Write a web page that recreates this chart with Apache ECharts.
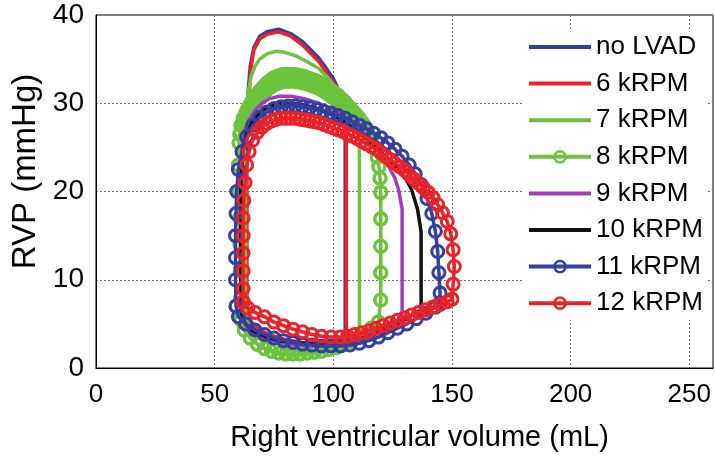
<!DOCTYPE html>
<html>
<head>
<meta charset="utf-8">
<title>RV PV loops</title>
<script src="https://cdn.jsdelivr.net/npm/echarts@6/dist/echarts.min.js"></script>
<style>
  html, body { margin: 0; padding: 0; background: #fff; }
  #chart { width: 715px; height: 460px; }
</style>
</head>
<body>
<div id="chart"></div>
<script>
// RV pressure-volume loops, [volume mL, pressure mmHg]
const noLvad = [
  [63.5, 6.5], [65, 5.0], [68, 4.1], [73, 3.5], [80, 3.0], [87, 2.7], [94, 2.6], [100, 2.7], [105, 3.0],
  [105, 27.5], [103.5, 30.8], [100, 32.8], [94, 35.1], [87, 37.0], [82, 37.9], [77, 38.4], [72, 38.1],
  [69, 37.6], [66.5, 36.3], [65, 34.2], [64, 31], [63.5, 26], [63.5, 6.5]
];
const rpm6 = [
  [63.5, 6.5], [65.5, 5.2], [69, 4.3], [74, 3.7], [80, 3.2], [87, 2.9], [94, 2.8], [100, 2.9], [105.5, 3.2],
  [105.5, 27], [104, 30.3], [100, 32.3], [94, 34.7], [87, 36.6], [82, 37.6], [77, 38.1], [72, 37.8],
  [69, 37.3], [66.5, 36], [65.3, 34], [64.5, 31], [63.5, 26], [63.5, 6.5]
];
const rpm7 = [
  [63, 6], [65, 4.6], [68, 3.7], [73, 3.1], [80, 2.7], [88, 2.5], [96, 2.6], [104, 3.0], [111, 3.6],
  [111, 26], [108, 28.3], [105.5, 29.8], [102, 31.3], [98, 32.8], [94, 33.9], [89, 34.7], [84, 35.4],
  [79, 35.8], [76, 35.9], [72, 35.6], [69, 35], [67, 34.2], [65.3, 33], [64, 31], [63, 28], [63, 6]
];
// 8 kRPM: two beats, same filling / isovolumic parts, slightly different ejection
const rpm8Fill = [
  [61, 5.5], [62.5, 4.3], [65, 3.4], [68, 2.7], [71, 2.2], [74, 1.9], [77, 1.7], [80, 1.6], [83, 1.6],
  [86, 1.6], [89, 1.7], [92, 1.8], [95, 1.9], [98, 2.1], [101, 2.3], [104, 2.6], [107, 3.0], [110, 3.4],
  [113, 3.9], [116, 4.5], [119, 5.2], [120, 7.7], [120, 10.8], [120, 13.8], [120, 16.9], [120, 19.9],
  [119.7, 21.5], [119.2, 22.8], [118.5, 23.9], [117.5, 25.0], [116, 26.0], [114.5, 26.8], [113, 27.5]
];
const rpm8EjectA = [
  [112, 27.9], [111, 28.3], [110, 28.6], [109, 28.9], [108, 29.2], [107, 29.5], [106, 29.8], [105, 30.1],
  [104, 30.4], [103, 30.6], [102, 30.9], [101, 31.1], [100, 31.3], [99, 31.5], [98, 31.7], [97, 31.9],
  [96, 32.1], [95, 32.2], [94, 32.4], [93, 32.5], [92, 32.6], [91, 32.7], [90, 32.8], [89, 32.9],
  [88, 33.0], [87, 33.1], [86, 33.1], [85, 33.2], [84, 33.2], [83, 33.3], [82, 33.3], [81, 33.3],
  [80, 33.3], [79, 33.3], [78, 33.2], [77, 33.1], [76, 33.0], [75, 32.9], [74, 32.7], [73, 32.5],
  [72, 32.3], [71, 32.0], [70, 31.7], [69, 31.4], [68, 31.1], [67, 30.7], [66, 30.3], [65, 29.9],
  [64, 29.4], [63, 28.9], [62, 28.3], [61, 27.5], [60.5, 26.5], [60.3, 25.5]
];
const rpm8EjectB = [
  [112, 27.3], [111, 27.6], [110, 28.0], [109, 28.3], [108, 28.6], [107, 28.9], [106, 29.2], [105, 29.4],
  [104, 29.7], [103, 29.9], [102, 30.2], [101, 30.4], [100, 30.6], [99, 30.8], [98, 31.0], [97, 31.2],
  [96, 31.4], [95, 31.5], [94, 31.7], [93, 31.8], [92, 31.9], [91, 32.0], [90, 32.1], [89, 32.2],
  [88, 32.3], [87, 32.3], [86, 32.4], [85, 32.4], [84, 32.5], [83, 32.5], [82, 32.5], [81, 32.5],
  [80, 32.5], [79, 32.5], [78, 32.4], [77, 32.3], [76, 32.2], [75, 32.1], [74, 31.9], [73, 31.7],
  [72, 31.5], [71, 31.2], [70, 30.9], [69, 30.6], [68, 30.3], [67, 29.9], [66, 29.5], [65, 29.1],
  [64, 28.6], [63, 28.1], [62, 27.5], [61, 26.7], [60.3, 25.5]
];
const rpm8Relax = [
  [60, 23], [60.3, 20], [60.5, 17], [60.7, 14], [60.8, 11], [61, 8], [61, 5.5]
];
const rpm9 = [
  [61.5, 6], [63, 4.8], [67, 3.9], [72, 3.3], [78, 2.9], [85, 2.6], [92, 2.5], [100, 2.6], [108, 3.0],
  [116, 3.6], [124, 4.6], [129, 5.4], [129, 18], [127.5, 20.2], [126, 21.5], [123, 23], [119, 24.6],
  [115, 26], [110, 27.4], [105, 28.5], [100, 29.3], [94, 30.0], [88, 30.5], [82, 30.8], [77, 30.8],
  [73, 30.5], [70, 30.0], [67, 29.2], [64.5, 28.1], [62.5, 26.8], [61.5, 25], [61.5, 6]
];
const rpm10 = [
  [61, 6.5], [62.5, 5.2], [66, 4.2], [71, 3.6], [77, 3.1], [84, 2.9], [92, 2.7], [100, 2.8], [108, 3.1],
  [116, 3.7], [124, 4.6], [131, 5.6], [137, 6.6], [137, 15.4], [135.5, 18], [133, 20.2], [130.8, 21.3],
  [127, 22.6], [123.6, 23.6], [119, 24.8], [114, 26], [109, 27.1], [104, 28], [98, 28.9], [92, 29.5],
  [86, 29.9], [80, 30.0], [76, 29.9], [72, 29.5], [69, 28.9], [66, 28], [63.5, 26.6], [62, 24.8],
  [61, 22], [61, 6.5]
];
const rpm11 = [
  [59, 7], [60, 5.8], [63, 5.0], [67, 4.3], [71, 3.8], [75, 3.4], [79, 3.1], [83, 2.9], [87, 2.7],
  [91, 2.6], [95, 2.5], [99, 2.5], [103, 2.5], [107, 2.6], [111, 2.8], [115, 3.1], [119, 3.5], [123, 4.0],
  [127, 4.5], [131, 5.0], [135, 5.6], [139, 6.2], [143, 6.9], [145, 7.4], [145, 8.5], [144.5, 10.8],
  [144, 13.2], [143, 15.5], [141.5, 17.5], [139.5, 19.2], [137, 20.8], [134.5, 22.0], [132, 23.0],
  [129, 24.0], [126, 24.8], [123, 25.5], [120, 26.1], [117, 26.6], [114, 27.1], [111, 27.5], [108, 27.9],
  [105, 28.3], [102, 28.6], [99, 28.9], [96, 29.1], [93, 29.3], [90, 29.5], [87, 29.6], [84, 29.7],
  [81, 29.7], [78, 29.6], [75, 29.4], [72, 29.0], [69, 28.4], [66, 27.5], [63.5, 26.2], [61.5, 24.5],
  [60, 22.5], [59.3, 20], [59, 17.5], [58.8, 15], [58.8, 12.5], [58.8, 10], [59, 7]
];
const rpm12 = [
  [62, 7.5], [64, 6.8], [67, 6.3], [71, 5.8], [75, 5.2], [79, 4.8], [83, 4.4], [87, 4.1], [91, 3.8],
  [95, 3.6], [99, 3.5], [103, 3.5], [106, 3.6], [109, 3.8], [112, 4.0], [115, 4.2], [118, 4.5], [121, 4.8],
  [124, 5.1], [127, 5.4], [130, 5.7], [133, 6.0], [136, 6.3], [139, 6.6], [142, 6.9], [145, 7.2],
  [148, 7.5], [150, 7.8], [150.5, 9.5], [151, 11.5], [150.5, 13.4], [149.5, 15.2], [148, 16.6],
  [146, 17.6], [144, 18.5], [142, 19.3], [140, 19.9], [138, 20.4], [136, 20.9], [134, 21.4], [132, 21.9],
  [130, 22.4], [128, 22.8], [126, 23.2], [124, 23.6], [122, 24.0], [120, 24.4], [118, 24.8], [116, 25.1],
  [114, 25.4], [112, 25.7], [110, 26.0], [108, 26.3], [106, 26.5], [104, 26.8], [102, 27.0], [100, 27.2],
  [98, 27.4], [96, 27.6], [94, 27.8], [92, 27.9], [90, 28.0], [88, 28.1], [86, 28.2], [84, 28.3],
  [82, 28.3], [80, 28.3], [78, 28.3], [76, 28.2], [74, 28.0], [72, 27.7], [70, 27.3], [68, 26.7],
  [66, 25.8], [64.5, 24.5], [63.5, 23], [62.8, 21], [62.3, 19], [62, 17], [62, 15], [62, 13],
  [62, 11], [62, 9], [62, 7.5]
];
const rpm8 = [].concat(rpm8Fill, rpm8EjectA, rpm8Relax, rpm8Fill, rpm8EjectB, rpm8Relax);

const seriesNames = ['no LVAD', '6 kRPM', '7 kRPM', '8 kRPM', '9 kRPM', '10 kRPM', '11 kRPM', '12 kRPM'];
const seriesData = [noLvad, rpm6, rpm7, rpm8, rpm9, rpm10, rpm11, rpm12];
const seriesColors = ['#3340a0', '#ec2228', '#6cc33c', '#6cc33c', '#a23cbc', '#111111', '#3340a0', '#ec2228'];
const withCircles = [false, false, false, true, false, false, true, true];

const font = "'Liberation Sans', Arial, sans-serif";

const chart = echarts.init(document.getElementById('chart'));

const series = seriesNames.map((name, i) => ({
    name: name,
    type: 'line',
    data: seriesData[i],
    smooth: false,
    symbol: withCircles[i] ? 'circle' : 'none',
    symbolSize: 12,
    showAllSymbol: true,
    lineStyle: { color: seriesColors[i], width: 3.5 },
    itemStyle: withCircles[i]
        ? { color: 'rgba(255,255,255,0)', borderColor: seriesColors[i], borderWidth: 3 }
        : { color: seriesColors[i], borderWidth: 0 },
    emphasis: { disabled: true },
    z: 2 + i
}));

// plain lines get a flat bar as legend icon, circle series keep line + circle
const legendData = seriesNames.map((name, i) => withCircles[i]
    ? { name: name, lineStyle: { width: 4 }, itemStyle: { borderWidth: 2.5 } }
    : { name: name, icon: 'path://M0,0 h62 v4 h-62 Z', itemStyle: { borderWidth: 0 } });

chart.setOption({
    animation: false,
    backgroundColor: '#fff',
    grid: {
        left: 96,
        right: 2,
        top: 15,
        bottom: 92,
        show: true,
        borderColor: '#000',
        borderWidth: 1
    },
    legend: {
        orient: 'vertical',
        left: 522,
        top: 30,
        padding: [2, 4, 2, 5],
        itemWidth: 62,
        itemHeight: 14,
        itemGap: 6.6,
        backgroundColor: '#fff',
        textStyle: {
            fontFamily: font,
            fontSize: 26,
            lineHeight: 30,
            color: '#000'
        },
        data: legendData
    },
    xAxis: {
        type: 'value',
        min: 0,
        max: 260,
        interval: 50,
        name: 'Right ventricular volume (mL)',
        nameLocation: 'middle',
        nameGap: 55,
        nameTextStyle: { fontFamily: font, fontSize: 29, color: '#000', padding: [0, 0, 0, 30] },
        axisLine: { lineStyle: { color: '#000', width: 1 } },
        axisTick: { show: false },
        axisLabel: {
            fontFamily: font,
            fontSize: 26,
            color: '#000',
            margin: 14,
            showMaxLabel: false
        },
        splitLine: { lineStyle: { color: '#777', type: [2, 2], width: 1 } }
    },
    yAxis: {
        type: 'value',
        min: 0,
        max: 40,
        interval: 10,
        name: 'RVP (mmHg)',
        nameLocation: 'middle',
        nameGap: 52,
        nameTextStyle: { fontFamily: font, fontSize: 33, color: '#000', padding: [0, 0, 0, 40] },
        axisLine: { lineStyle: { color: '#000', width: 1 } },
        axisTick: { show: false },
        axisLabel: {
            fontFamily: font,
            fontSize: 28,
            color: '#000',
            margin: 12
        },
        splitLine: { lineStyle: { color: '#777', type: [2, 2], width: 1 } }
    },
    series: series
});
</script>
</body>
</html>
